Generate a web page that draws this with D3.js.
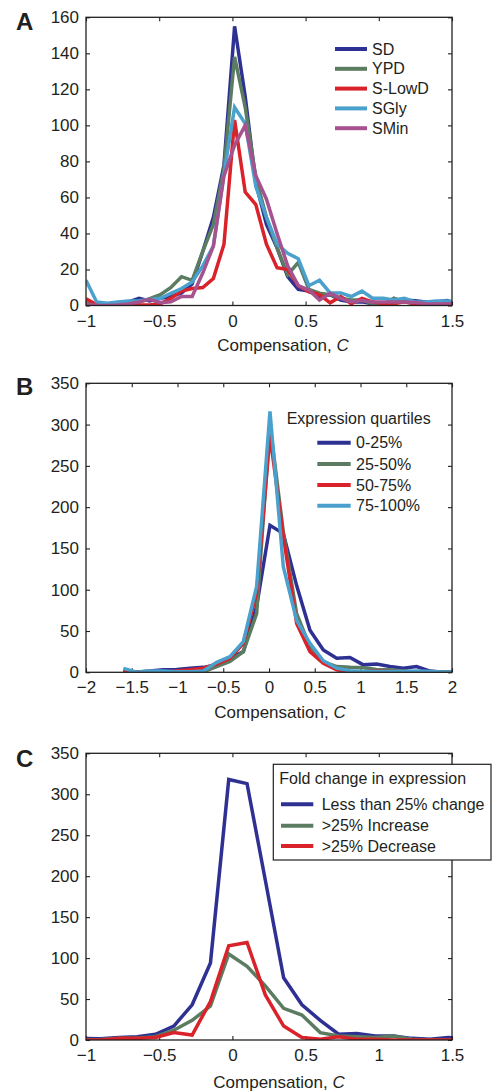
<!DOCTYPE html>
<html><head><meta charset="utf-8">
<script src="https://cdn.jsdelivr.net/npm/d3@7"></script>
<style>
html,body{margin:0;padding:0;background:#fff;}
text{font-family:"Liberation Sans",Arial,Helvetica,sans-serif;fill:#231f20;}
</style></head>
<body>
<svg id="chart" width="492" height="1092"></svg>
<script>
// ---------- Panel A data ----------
const aStart = -1, aStep = 0.0725;
const aSeriesNames = ["SD", "YPD", "S-LowD", "SGly", "SMin"];
const aSD     = [0,0.5,0.6,1,2,4,2.5,4,5,7,12,30,49,78,155,116,68,45,32,16,9,8,5,6,3,2,2,1,0.3,1.2,3,2.7,2,2,2.7,1];
const aYPD    = [3,0.3,0,1,1.6,2,3.8,6,10,16,14,30,45,76,138,110,71,49,32,17,24,9,6.8,6,4,3,3,1,0.3,4,2,1,1,1,1,1];
const aSLowD  = [3.8,0.5,0,0,0,0.3,0.3,1,4,8,9.4,10,15,34,103,63,56,34,21,20,11,7.6,6,1.5,5,1,4,2,1,1,2,1,0.5,0,1,1];
const aSGly   = [14,2,1.2,2,2.5,2.7,3.4,4,6.7,9.4,13,22,33,73,110,101,66,49,34,29,26,11,14,7,7,5,8,4,4,3,4,2,2,2.5,2.5,2];
const aSMin   = [0.8,0,0,0.3,0.8,2,3.4,1.6,2,5,5,18,33,72,89,100,72,59,40,22,11,8.6,3,6.8,4,2,2.7,2,2,2,2,1.6,1,0.8,1,1];
const aXTicks = [-1,-0.5,0,0.5,1,1.5];
const aYTicks = [0,20,40,60,80,100,120,140,160];

// ---------- Panel B data ----------
const bStart = -1.592, bStep = 0.1457;
const bSeriesNames = ["0-25%", "25-50%", "50-75%", "75-100%"];
const bQ1 = [1,0.5,1.5,3,3.5,5,6,9,17,25,80,178,168,105,51,27,17,18,9,10,7,5,7,1.5,0,0];
const bQ2 = [0.8,0,0.5,0.5,0.5,0.5,0.5,7,13,25,71,300,170,71,31,13,7,6,5.5,3.5,3,1.5,0.5,0.5,0.5,0.5];
const bQ3 = [1.5,0,1,0,1.5,3,5,10,17,35,96,287,165,59,25,11,3,0.4,0.5,1.5,1,0.5,0.5,0,0,0];
const bQ4 = [4.8,0,1.5,1.5,0.8,0.8,1.6,12,19,37,104,316,128,63,35,14,5,2,1,1,1,1,1.5,1,0.5,0.5];
const bXTicks = [-2,-1.5,-1,-0.5,0,0.5,1,1.5,2];
const bYTicks = [0,50,100,150,200,250,300,350];

// ---------- Panel C data ----------
const cStart = -1.025, cStep = 0.125;
const cSeriesNames = ["Less than 25% change", ">25% Increase", ">25% Decrease"];
const cLess = [2,1.5,3,4,7,17,43,94,318,313,195,76,43,24,7,8,5,5,2,1,3,1];
const cInc  = [0,0.5,2,2.5,4,12,24,41.5,105,90,66,38.7,30.5,9,5,4,3,5,1,0,0,0];
const cDec  = [0,0,2,2,3,9,6,47,115,119,55,17,3,1,4,1,1,0,0,0,0,0];
const cXTicks = [-1,-0.5,0,0.5,1,1.5];
const cYTicks = [0,50,100,150,200,250,300,350];

// ---------- styling ----------
const NAVY = "#2e3192", GREEN = "#5b7c60", RED = "#d9222a", CYAN = "#4aa1cd", MAG = "#a5528e";
const INK = "#231f20";
const fmt = v => (v < 0 ? "\u2212" : "") + Math.abs(v);

const svg = d3.select("#chart");
const L = 86, R = 452;

function panel(o) {
  const g = svg.append("g");
  const x = d3.scaleLinear().domain(o.xd).range([L, R]);
  const y = d3.scaleLinear().domain(o.yd).range([o.bottom, o.top]);
  const id = "clip" + o.letter;
  svg.append("defs").append("clipPath").attr("id", id)
    .append("rect").attr("x", L).attr("y", o.top - 5).attr("width", R - L).attr("height", o.bottom - o.top + 5);

  const ax = g.append("g").attr("transform", `translate(0,${o.bottom})`)
    .call(d3.axisBottom(x).tickValues(o.xt).tickSize(-4).tickPadding(9).tickFormat(fmt));
  const axT = g.append("g").attr("transform", `translate(0,${o.top})`)
    .call(d3.axisTop(x).tickValues(o.xt).tickSize(-4).tickFormat(""));
  const ay = g.append("g").attr("transform", `translate(${L},0)`)
    .call(d3.axisLeft(y).tickValues(o.yt).tickSize(-4).tickPadding(7).tickFormat(d3.format("d")));
  const ayR = g.append("g").attr("transform", `translate(${R},0)`)
    .call(d3.axisRight(y).tickValues(o.yt).tickSize(-4).tickFormat(""));
  [ax, axT, ay, ayR].forEach(a => {
    a.select(".domain").remove();
    a.selectAll("line").attr("stroke", INK).attr("stroke-width", 1.1);
    a.selectAll("text").attr("font-size", 17).attr("font-family", '"Liberation Sans",Arial,sans-serif').attr("fill", INK);
  });

  const lg = g.append("g").attr("clip-path", `url(#${id})`);
  o.series.forEach(s => {
    const pts = s.v.map((v, i) => [o.start + i * o.step, v]);
    lg.append("path").datum(pts)
      .attr("fill", "none").attr("stroke", s.c).attr("stroke-width", 3.5)
      .attr("stroke-linejoin", "miter").attr("stroke-miterlimit", 4)
      .attr("d", d3.line().x(d => x(d[0])).y(d => y(d[1])));
  });

  g.append("rect").attr("x", L).attr("y", o.top).attr("width", R - L).attr("height", o.bottom - o.top)
    .attr("fill", "none").attr("stroke", INK).attr("stroke-width", 1.3);

  const t = g.append("text").attr("x", o.labelX).attr("y", o.bottom + o.labelDy)
    .attr("text-anchor", "middle").attr("font-size", 17);
  t.append("tspan").text("Compensation, ");
  t.append("tspan").attr("font-style", "italic").text("C");

  g.append("text").attr("x", 16).attr("y", o.letterY).attr("font-size", 24).attr("font-weight", "bold")
    .text(o.letter);
  return g;
}

// Panel A
const gA = panel({letter: "A", top: 17.3, bottom: 305.5, xd: [-1, 1.5], yd: [0, 160], xt: aXTicks, yt: aYTicks,
  start: aStart, step: aStep, labelX: 283, labelDy: 45, letterY: 29.5,
  series: [{v: aSD, c: NAVY}, {v: aYPD, c: GREEN}, {v: aSLowD, c: RED}, {v: aSGly, c: CYAN}, {v: aSMin, c: MAG}]});
const aCols = [NAVY, GREEN, RED, CYAN, MAG];
aSeriesNames.forEach((n, i) => {
  const yy = 49 + i * 19.8;
  gA.append("line").attr("x1", 335).attr("x2", 367).attr("y1", yy).attr("y2", yy).attr("stroke", aCols[i]).attr("stroke-width", 4);
  gA.append("text").attr("x", 372).attr("y", yy + 5.6).attr("font-size", 16).text(n);
});

// Panel B
const gB = panel({letter: "B", top: 383.3, bottom: 672.3, xd: [-2, 2], yd: [0, 350], xt: bXTicks, yt: bYTicks,
  start: bStart, step: bStep, labelX: 280, labelDy: 46, letterY: 394.5,
  series: [{v: bQ1, c: NAVY}, {v: bQ2, c: GREEN}, {v: bQ3, c: RED}, {v: bQ4, c: CYAN}]});
gB.append("text").attr("x", 286.7).attr("y", 424).attr("font-size", 16).text("Expression quartiles");
const bCols = [NAVY, GREEN, RED, CYAN];
const bRows = [442.7, 464, 485, 505.7];
bSeriesNames.forEach((n, i) => {
  gB.append("line").attr("x1", 317.3).attr("x2", 350.7).attr("y1", bRows[i]).attr("y2", bRows[i]).attr("stroke", bCols[i]).attr("stroke-width", 4);
  gB.append("text").attr("x", 356).attr("y", bRows[i] + 5.7).attr("font-size", 16).text(n);
});

// Panel C
const gC = panel({letter: "C", top: 753.3, bottom: 1040, xd: [-1, 1.5], yd: [0, 350], xt: cXTicks, yt: cYTicks,
  start: cStart, step: cStep, labelX: 279, labelDy: 48, letterY: 767,
  series: [{v: cLess, c: NAVY}, {v: cInc, c: GREEN}, {v: cDec, c: RED}]});
gC.append("rect").attr("x", 273.3).attr("y", 764.3).attr("width", 217.7).attr("height", 95.7)
  .attr("fill", "#fff").attr("stroke", INK).attr("stroke-width", 1.2);
gC.append("text").attr("x", 279.3).attr("y", 784.3).attr("font-size", 16).text("Fold change in expression");
const cCols = [NAVY, GREEN, RED];
const cRows = [804.3, 825.7, 846];
cSeriesNames.forEach((n, i) => {
  gC.append("line").attr("x1", 281).attr("x2", 313.3).attr("y1", cRows[i]).attr("y2", cRows[i]).attr("stroke", cCols[i]).attr("stroke-width", 4);
  gC.append("text").attr("x", 321.7).attr("y", cRows[i] + 5.7).attr("font-size", 16).text(n);
});
</script>
</body></html>
